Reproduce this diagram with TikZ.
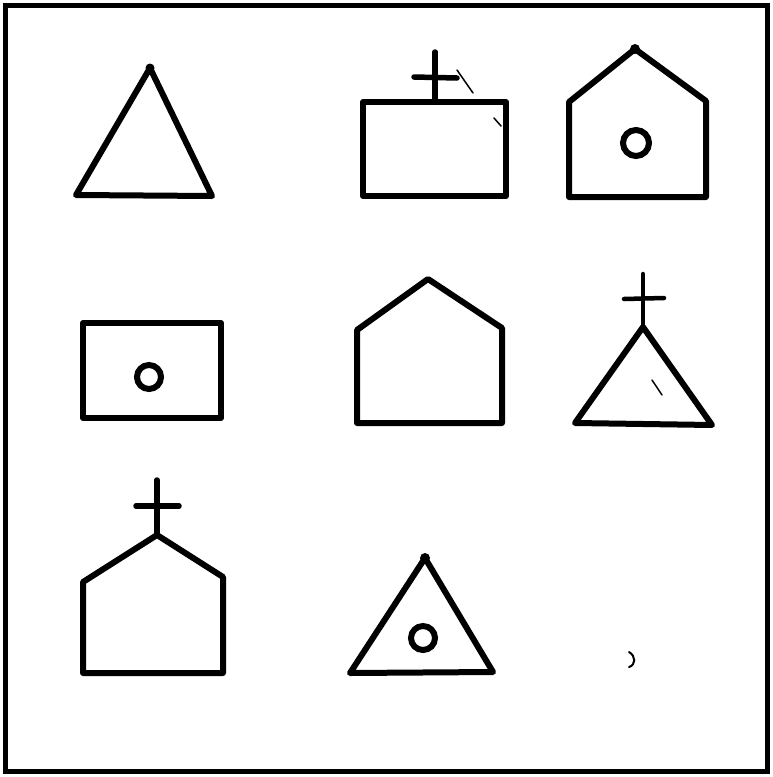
\documentclass[tikz,border=0pt]{standalone}
\begin{document}
\begin{tikzpicture}[x=1pt,y=-1pt,
  outline/.style={line width=6pt,line join=round,line cap=round},
  crossline/.style={line width=5.5pt,line cap=round},
  ring/.style={line width=6pt},
  frame/.style={line width=5pt},
  stray/.style={line width=1.5pt,line cap=round}]
\useasboundingbox (0,0) rectangle (773,777);
\fill[white] (0,0) rectangle (773,777);
% frame
\draw[frame] (5,5) rectangle (767,771);
% 1 triangle
\draw[outline] (150,68) -- (212,196) -- (76,195) -- cycle;
\fill (150,68) circle (4.5);
% 2 rectangle with cross
\draw[outline] (363,102) rectangle (506,196);
\draw[crossline] (435,52) -- (435,102);
\draw[crossline] (414,77) -- (457,78);
\draw[stray] (457,70) -- (473,93);
\draw[stray] (494,118) -- (501,126);
% 3 house with ring
\draw[outline] (569,197) -- (569,102) -- (635,49) -- (706,101) -- (706,197) -- cycle;
\fill (635,49) circle (5);
\draw[ring] (636,143) circle (13);
% 4 rectangle with ring
\draw[outline] (83,323) rectangle (221,418);
\draw[ring] (149,377) circle (12);
% 5 house
\draw[outline] (357,423) -- (357,330) -- (428,279) -- (502,328) -- (502,423) -- cycle;
% 6 triangle with cross
\draw[outline] (643,327) -- (712,425) -- (575,423) -- cycle;
\draw[crossline,line width=4.5pt] (643,274) -- (643,327);
\draw[crossline,line width=4.5pt] (624,299) -- (664,298);
\draw[stray] (652,380) -- (662,395);
% 7 house with cross
\draw[outline] (83,673) -- (83,582) -- (157,535) -- (223,577) -- (223,673) -- cycle;
\draw[crossline] (157,480) -- (157,535);
\draw[crossline] (136,506) -- (179,506);
% 8 triangle with ring
\draw[outline] (425,558) -- (493,672) -- (350,673) -- cycle;
\fill (425,558) circle (5);
\draw[ring] (423,638) circle (12);
% stray mark
\draw[stray,line width=2pt] (629,652) .. controls (636,656) and (636,665) .. (629,667);
\end{tikzpicture}
\end{document}
